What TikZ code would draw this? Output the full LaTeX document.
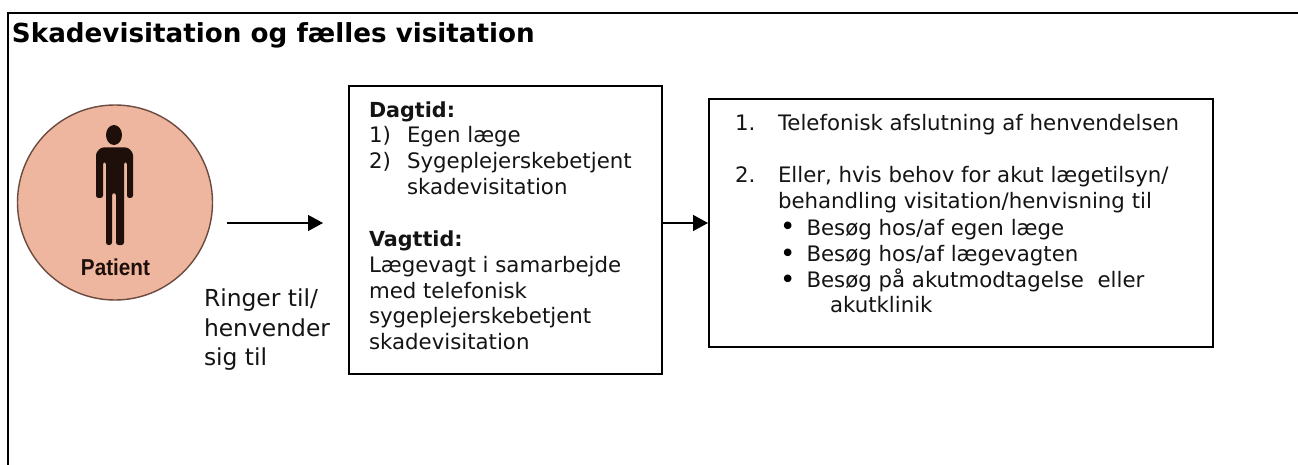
\documentclass[tikz,border=0pt]{standalone}
\usepackage{fontspec}
\usepackage{graphicx}
\setmainfont{DejaVu Sans}
\newfontfamily\patfont{Liberation Sans}
\usetikzlibrary{arrows.meta}
\definecolor{skin}{HTML}{EFB69F}
\definecolor{skinline}{HTML}{6B4A40}
\definecolor{figdark}{HTML}{1E0F0B}
\definecolor{inktext}{HTML}{141414}
\tikzset{
  x=1pt,y=-1pt,
  frame/.style={draw=black,line width=2pt},
  boxa/.style={draw=black,line width=1.6pt,fill=white},
  txt/.style={anchor=base west,inner sep=0pt,outer sep=0pt,font=\fontsize{21.3}{21.3}\selectfont,text=inktext},
  btxt/.style={txt,font=\fontsize{20.7}{21}\selectfont\bfseries},
  bigtxt/.style={txt,font=\fontsize{23.4}{24}\selectfont},
  bul/.style={txt,font=\fontsize{26}{26}\selectfont,text=black},
  arr/.style={draw=black,line width=1.4pt,-{Triangle[length=15pt,width=16pt]}},
}
\begin{document}
\begin{tikzpicture}
\useasboundingbox (0,0) rectangle (1298,465);
\fill[white] (0,0) rectangle (1298,465);
\draw[frame] (8,465) -- (8,13.5) -- (1298,13.5);
\node[txt,font=\fontsize{26.2}{27}\selectfont\bfseries,text=black] (title) at (12,43) {Skadevisitation og fælles visitation};
% patient
\node[circle,draw=skinline,fill=skin,line width=1.4pt,minimum size=195pt,inner sep=0pt] (pat) at (115,202.5) {};
\fill[figdark] (114,135) ellipse (8 and 10);
\fill[figdark,rounded corners=2.5pt] (96,198) -- (96,153) -- (101,147.5) -- (128,147.5) -- (133,153) -- (133,198) -- (127,198) -- (127,162) -- (124,162) -- (124,245) -- (116,245) -- (116,193) -- (112,193) -- (112,245) -- (106,245) -- (106,162) -- (103,162) -- (103,198) -- cycle;
\node[inner sep=0pt,text=figdark] (pl) at (115.5,267) {\scalebox{0.9}[1]{\patfont\fontsize{23}{23}\selectfont\bfseries Patient}};
\coordinate (a1s) at (227,223);
\coordinate (a1e) at (323,223);
\draw[arr] (a1s) -- (a1e);
\node[bigtxt] (r1) at (204,306) {Ringer til/};
\node[bigtxt] (r2) at (204,336.5) {henvender};
\node[bigtxt] (r3) at (204,365) {sig til};
% box 1
\node[boxa,anchor=north west,minimum width=313pt,minimum height=288pt,inner sep=0pt] (b1) at (348,85) {};
\node[btxt] (d0) at (369,118) {Dagtid:};
\node[txt] (d1) at (369,143) {1)};
\node[txt] (d1b) at (407,143) {Egen læge};
\node[txt] (d2) at (369,169) {2)};
\node[txt] (d2b) at (407,169) {Sygeplejerskebetjent};
\node[txt] (d3) at (407,195) {skadevisitation};
\node[btxt] (v0) at (369,246) {Vagttid:};
\node[txt] (v1) at (369,272) {Lægevagt i samarbejde};
\node[txt] (v2) at (369,298) {med telefonisk};
\node[txt] (v3) at (369,323) {sygeplejerskebetjent};
\node[txt] (v4) at (369,349) {skadevisitation};
% box 2
\node[boxa,anchor=north west,minimum width=504pt,minimum height=247.5pt,inner sep=0pt] (b2) at (708,98.5) {};
\draw[arr] (b1.east |- a1e) -- (b2.west |- a1e);
\node[txt] (t1) at (735,131) {1.};
\node[txt] (t1b) at (778,131) {Telefonisk afslutning af henvendelsen};
\node[txt] (t2) at (735,183) {2.};
\node[txt] (t2b) at (778,183) {Eller, hvis behov for akut lægetilsyn/};
\node[txt] (t3) at (778,208.5) {behandling visitation/henvisning til};
\node[bul] (p1) at (780,236) {•};
\node[txt] (p1b) at (806.5,235) {Besøg hos/af egen læge};
\node[bul] (p2) at (780,262) {•};
\node[txt] (p2b) at (806.5,261) {Besøg hos/af lægevagten};
\node[bul] (p3) at (780,288) {•};
\node[txt] (p3b) at (806.5,287) {Besøg på akutmodtagelse\ \ eller};
\node[txt] (p4) at (830,312) {akutklinik};
\end{tikzpicture}
\end{document}
